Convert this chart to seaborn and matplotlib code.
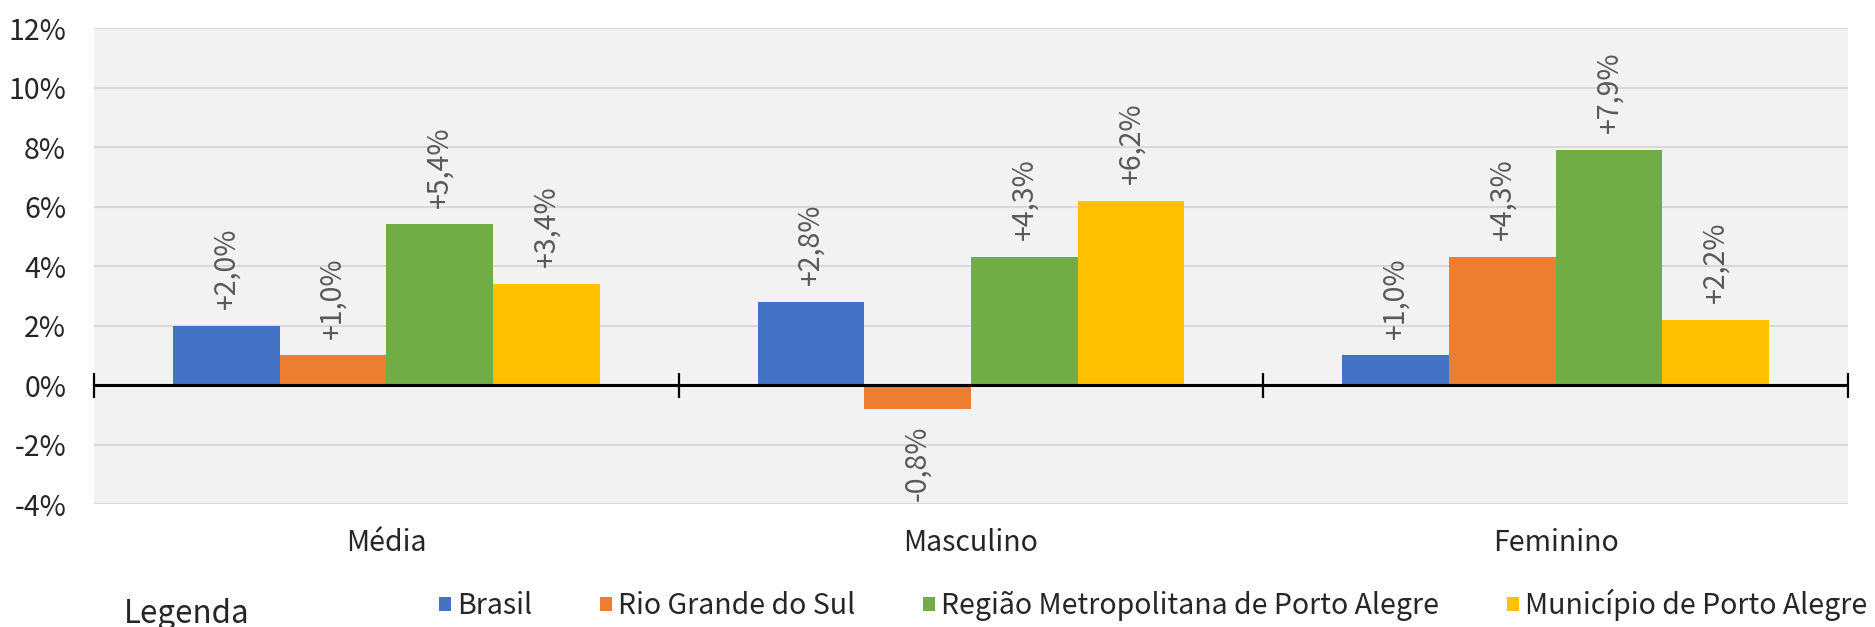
import matplotlib
matplotlib.use("Agg")
import matplotlib.pyplot as plt
import seaborn as sns
import pandas as pd
from matplotlib.ticker import FixedLocator

# Variação por grupo (%)
categorias = ["Média", "Masculino", "Feminino"]
series = ["Brasil", "Rio Grande do Sul",
          "Região Metropolitana de Porto Alegre", "Município de Porto Alegre"]
brasil = [2.0, 2.8, 1.0]
rio_grande_do_sul = [1.0, -0.8, 4.3]
regiao_metropolitana = [5.4, 4.3, 7.9]
municipio_poa = [3.4, 6.2, 2.2]
y_ticks = [-4, -2, 0, 2, 4, 6, 8, 10, 12]

cores = ["#4472C4", "#ED7D31", "#70AD47", "#FFC000"]

valores = [brasil, rio_grande_do_sul, regiao_metropolitana, municipio_poa]
df = pd.DataFrame(
    [(c, s, v[i]) for s, v in zip(series, valores) for i, c in enumerate(categorias)],
    columns=["categoria", "serie", "valor"],
)

sns.set_theme(style="white")
plt.rcParams["font.family"] = ["Noto Sans CJK JP", "DejaVu Sans"]

fig = plt.figure(figsize=(18.75, 6.27), dpi=100)
ax = fig.add_axes([0.0501, 0.196, 0.9355, 0.7593])
ax.set_facecolor("#F2F2F2")

sns.barplot(data=df, x="categoria", y="valor", hue="serie", order=categorias,
            hue_order=series, palette=cores, width=0.73, saturation=1,
            linewidth=0, ax=ax, legend=True)

# Rótulos de dados
for cont, v in zip(ax.containers, valores):
    rotulos = [("+" if x > 0 else "-") + f"{abs(x):.1f}".replace(".", ",") + "%" for x in v]
    ax.bar_label(cont, labels=rotulos, rotation=90, padding=12,
                 fontsize=20.5, color="#595959")

ax.set_xlim(-0.5, 2.5)
ax.set_ylim(-4, 12)
ax.set_yticks(y_ticks)
ax.set_yticklabels([f"{t}%" for t in y_ticks])
ax.yaxis.grid(True, color="#D9D9D9", linewidth=1.5)
ax.set_axisbelow(True)
for s in ax.spines.values():
    s.set_visible(False)
ax.set_xlabel("")
ax.set_ylabel("")
ax.tick_params(axis="y", length=0, labelsize=20.5, labelcolor="#262626", pad=20)
ax.tick_params(axis="x", length=0, labelsize=20.5, labelcolor="#262626", pad=17)

# Linha do zero e marcas entre as categorias
ax.axhline(0, color="black", linewidth=2.2, zorder=5)
eixo0 = ax.secondary_xaxis(4 / 16)
eixo0.xaxis.set_major_locator(FixedLocator([-0.5, 0.5, 1.5, 2.5]))
eixo0.tick_params(direction="inout", length=18, width=1.6, color="black",
                  labelbottom=False)
eixo0.spines["bottom"].set_visible(False)

# Legenda
handles, labels = ax.get_legend_handles_labels()
ax.legend_.remove()
fig.legend(handles, labels, loc="center", bbox_to_anchor=(0.615, 0.035), ncol=4,
           frameon=False, fontsize=20.5, handlelength=0.42, handleheight=0.42,
           handletextpad=0.2, columnspacing=2.4, labelcolor="#262626")
fig.text(0.066, 0.02, "Legenda", fontsize=22.5, color="#262626", va="center")

fig.savefig("out.png", dpi=100, facecolor="white")
